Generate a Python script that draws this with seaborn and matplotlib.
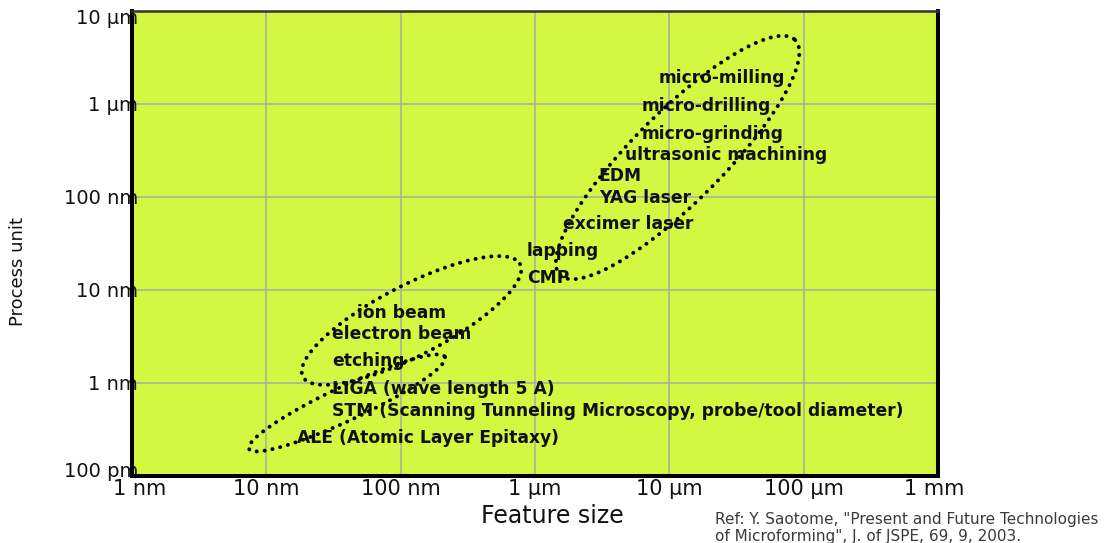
import matplotlib
matplotlib.use("Agg")
import matplotlib.pyplot as plt
import matplotlib.transforms as mtransforms
import numpy as np
import pandas as pd
import seaborn as sns

# ------------------------------------------------------------------------------
# Data (all lengths in nm)
# ------------------------------------------------------------------------------
X_TICK_VALUES = [1, 10, 100, 1e3, 1e4, 1e5, 1e6]
X_TICK_LABELS = ["1 nm", "10 nm", "100 nm", "1 µm", "10 µm", "100 µm", "1 mm"]
Y_TICK_VALUES = [0.1, 1, 10, 100, 1e3, 1e4]
Y_TICK_LABELS = ["100 pm", "1 nm", "10 nm", "100 nm", "1 µm", "10 µm"]

PROCESS_NAMES = [
    "micro-milling", "micro-drilling", "micro-grinding", "ultrasonic machining",
    "EDM", "YAG laser", "excimer laser", "lapping", "CMP",
    "ion beam", "electron beam", "etching", "LIGA (wave length 5 A)",
    "STM (Scanning Tunneling Microscopy, probe/tool diameter)",
    "ALE (Atomic Layer Epitaxy)",
]
PROCESS_FEATURE_NM = [8400, 6270, 6270, 4690, 2950, 3000, 1620, 873, 873,
                      47.4, 30.8, 30.8, 30.8, 30.8, 16.9]
PROCESS_UNIT_NM = [2010, 1000, 504, 297, 177, 103, 53.9, 27.6, 14.2,
                   5.94, 3.53, 1.81, 0.895, 0.525, 0.269]

# Dotted process regions: centre, end of long axis, end of short axis
REGION_NAMES = ["machining", "beam", "atomic"]
REGION_CENTER_X = [11535, 120.5, 39.9]
REGION_CENTER_Y = [265.8, 4.70, 0.610]
REGION_TIP_X = [86500, 774, 214]
REGION_TIP_Y = [4875, 19.05, 1.904]
REGION_SIDE_X = [19900, 161, 45.1]
REGION_SIDE_Y = [120.9, 2.19, 0.416]

REFERENCE = ('Ref: Y. Saotome, "Present and Future Technologies\n'
             'of Microforming", J. of JSPE, 69, 9, 2003.')

BG_COLOR = "#d4f842"


def region_outlines() -> pd.DataFrame:
    t = np.linspace(0, 2 * np.pi, 240)
    frames = []
    for i, name in enumerate(REGION_NAMES):
        c = np.log10([REGION_CENTER_X[i], REGION_CENTER_Y[i]])
        a = np.log10([REGION_TIP_X[i], REGION_TIP_Y[i]]) - c
        b = np.log10([REGION_SIDE_X[i], REGION_SIDE_Y[i]]) - c
        lx = c[0] + a[0] * np.cos(t) + b[0] * np.sin(t)
        ly = c[1] + a[1] * np.cos(t) + b[1] * np.sin(t)
        frames.append(pd.DataFrame({"region": name, "step": np.arange(len(t)),
                                    "x": 10 ** lx, "y": 10 ** ly}))
    return pd.concat(frames, ignore_index=True)


def nudge(label, fig, dx_px, dy_px):
    shift = mtransforms.ScaledTranslation(dx_px / fig.dpi, dy_px / fig.dpi,
                                          fig.dpi_scale_trans)
    label.set_transform(label.get_transform() + shift)


sns.set_theme(style="white")
plt.rcParams["font.family"] = ["DejaVu Sans"]

fig = plt.figure(figsize=(11.08, 5.43), dpi=100)
ax = fig.add_axes([0.1191, 0.1234, 0.7274, 0.8564])
ax.set_facecolor(BG_COLOR)
ax.set_xscale("log")
ax.set_yscale("log")
ax.set_xlim(X_TICK_VALUES[0], X_TICK_VALUES[-1])
ax.set_ylim(Y_TICK_VALUES[0], Y_TICK_VALUES[-1])

# --- grid ---
ax.grid(True, which="major", color="#a9a9a9", linewidth=1.1)
ax.grid(False, which="minor")
ax.set_axisbelow(True)

# --- dotted regions ---
outlines = region_outlines()
sns.lineplot(data=outlines, x="x", y="y", units="region", estimator=None,
             sort=False, color="black", linewidth=2.8,
             linestyle=(0, (0.05, 2.0)), dash_capstyle="round", ax=ax,
             zorder=3, legend=False)

# --- process labels ---
for name, fx, fy in zip(PROCESS_NAMES, PROCESS_FEATURE_NM, PROCESS_UNIT_NM):
    ax.text(fx, fy, name, fontsize=12.3, fontweight="bold", color="#111111",
            ha="left", va="center_baseline", zorder=4)

# --- ticks ---
ax.set_xticks(X_TICK_VALUES)
ax.set_xticklabels(X_TICK_LABELS, fontsize=15)
ax.set_yticks(Y_TICK_VALUES)
ax.set_yticklabels(Y_TICK_LABELS, fontsize=14)
ax.xaxis.set_minor_locator(matplotlib.ticker.NullLocator())
ax.yaxis.set_minor_locator(matplotlib.ticker.NullLocator())
ax.tick_params(axis="x", length=0, pad=2, colors="#111111")
ax.tick_params(axis="y", length=0, pad=-4.5, colors="#111111")
for lab in ax.get_yticklabels():
    lab.set_zorder(5)

# edge labels sit a little inside the frame
ylabs = ax.get_yticklabels()
nudge(ylabs[0], fig, 0, 6)
nudge(ylabs[-1], fig, 0, -6)
xlabs = ax.get_xticklabels()
nudge(xlabs[0], fig, 8, 0)
nudge(xlabs[-1], fig, -4, 0)

# --- spines ---
for side in ["left", "bottom", "right"]:
    ax.spines[side].set_color("#000000")
    ax.spines[side].set_linewidth(2.9)
ax.spines["top"].set_color("#333333")
ax.spines["top"].set_linewidth(1.8)

# --- axis labels ---
ax.set_xlabel("Feature size", fontsize=17, color="#111111")
ax.xaxis.set_label_coords(0.522, -0.060)
ax.set_ylabel("Process unit", fontsize=13, color="#111111")
ax.yaxis.set_label_coords(-0.130, 0.439)

fig.text(0.645, 0.0570, REFERENCE, fontsize=11, color="#3a3a3a",
         ha="left", va="top", linespacing=1.15)

fig.savefig("out.png", dpi=100)
plt.close(fig)
